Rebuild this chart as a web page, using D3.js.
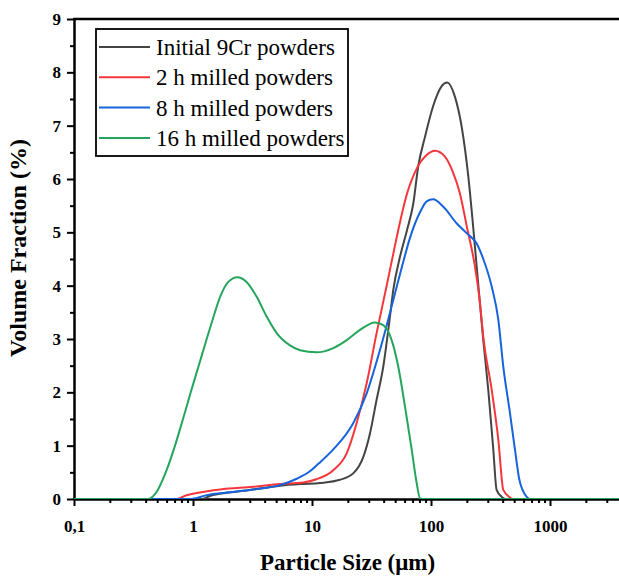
<!DOCTYPE html>
<html>
<head>
<meta charset="utf-8">
<style>
  body { margin: 0; background: #fff; }
  text { font-family: "Liberation Serif", "Times New Roman", serif; }
</style>
</head>
<body>
<script src="https://cdn.jsdelivr.net/npm/d3@7"></script>
<div id="chart"></div>
<script>
// series labels + colours
var seriesNames = ["Initial 9Cr powders", "2 h milled powders", "8 h milled powders", "16 h milled powders"];
var seriesColors = ["#444444", "#f5373c", "#1763dc", "#25a55c"];

// particle size (um) / volume fraction (%)
var initialSize = [0.1, 1.2, 1.4, 2, 3, 5.4, 8, 11.7, 17.2, 22.2, 27, 30.7, 34.9, 39.7, 45.2, 48.2, 55, 63, 71, 78, 89, 104, 123, 137, 159, 181, 206, 226, 242, 275, 303, 334, 356, 393, 420, 3800];
var initialFrac = [0, 0, 0.06, 0.12, 0.17, 0.25, 0.28, 0.3, 0.36, 0.48, 0.79, 1.23, 1.86, 2.48, 3.42, 3.92, 4.55, 5.05, 5.54, 6.23, 6.79, 7.36, 7.74, 7.81, 7.54, 6.98, 6.04, 5.11, 4.36, 2.98, 2.04, 0.92, 0.17, 0.04, 0, 0];

var milled2Size = [0.1, 0.73, 0.88, 1.0, 1.69, 3.2, 5.4, 8.45, 10.9, 15.1, 19.6, 23.7, 28.8, 34.9, 42.4, 49.8, 55, 62.4, 76, 92, 108, 131, 154, 175, 200, 234, 258, 275, 324, 368, 405, 461, 480, 3800];
var milled2Frac = [0, 0, 0.07, 0.1, 0.18, 0.23, 0.28, 0.31, 0.37, 0.54, 0.86, 1.42, 2.17, 3.11, 4.0, 4.75, 5.2, 5.7, 6.2, 6.45, 6.53, 6.42, 6.11, 5.73, 5.11, 4.36, 3.67, 3.04, 2.04, 1.11, 0.17, 0.03, 0, 0];

var milled8Size = [0.1, 0.94, 1.3, 2.33, 3.89, 5.38, 7.43, 9.6, 11.3, 15.1, 22.2, 28.8, 37.2, 48.2, 58.5, 66.7, 81, 92, 104, 127, 164, 200, 242, 275, 324, 368, 405, 461, 508, 553, 637, 680, 3800];
var milled8Frac = [0, 0, 0.07, 0.14, 0.2, 0.26, 0.38, 0.52, 0.66, 0.93, 1.42, 1.98, 2.79, 3.73, 4.45, 4.9, 5.38, 5.58, 5.62, 5.48, 5.17, 4.98, 4.79, 4.5, 3.98, 3.36, 2.48, 1.61, 0.92, 0.36, 0.04, 0, 0];

var milled16Size = [0.1, 0.42, 0.5, 0.6, 0.706, 0.824, 0.957, 1.117, 1.303, 1.47, 1.69, 1.98, 2.36, 2.82, 3.43, 4.16, 5.05, 6.53, 7.93, 10.9, 15.1, 19.6, 25.3, 33.8, 39.7, 46.7, 53.1, 60.5, 68.9, 75.9, 80.9, 85, 3800];
var milled16Frac = [0, 0, 0.15, 0.54, 1.0, 1.5, 2.0, 2.5, 3.0, 3.38, 3.79, 4.07, 4.16, 4.07, 3.79, 3.42, 3.11, 2.88, 2.79, 2.75, 2.83, 2.98, 3.17, 3.31, 3.26, 2.98, 2.48, 1.73, 0.92, 0.29, 0.01, 0, 0];

// ticks
var xMajor = [0.1, 1, 10, 100, 1000];
var xMajorLabels = ["0,1", "1", "10", "100", "1000"];
var yMajor = [0, 1, 2, 3, 4, 5, 6, 7, 8, 9];

var sizes = [initialSize, milled2Size, milled8Size, milled16Size];
var fracs = [initialFrac, milled2Frac, milled8Frac, milled16Frac];

var W = 619, H = 579;
var margin = { top: 19, right: 0, bottom: 80, left: 74 };
var width = W - margin.left - margin.right,
    height = H - margin.top - margin.bottom;

var svg = d3.select("#chart")
    .append("svg")
    .attr("width", W)
    .attr("height", H)
    .append("g")
    .attr("transform", "translate(" + margin.left + "," + margin.top + ")");

// 119 px per decade in the picture
var xMax = 0.1 * Math.pow(10, width / 119);
var x = d3.scaleLog().domain([0.1, xMax]).range([0, width]);
var y = d3.scaleLinear().domain([0, 9]).range([height, 0]);

svg.append("defs").append("clipPath").attr("id", "clip")
    .append("rect").attr("x", 0).attr("y", -2).attr("width", width).attr("height", height + 2);

// minor ticks
var xMinor = [];
[0.1, 1, 10, 100, 1000].forEach(function (d) {
    for (var k = 2; k <= 9; k++) { if (d * k < xMax) xMinor.push(d * k); }
});
var yMinor = d3.range(0.5, 9, 1);

svg.append("g")
    .attr("transform", "translate(0," + height + ")")
    .call(d3.axisBottom(x).tickValues(xMinor).tickSize(4).tickFormat(""))
    .call(function (g) { g.select(".domain").remove(); g.selectAll("line").attr("stroke-width", 2); });

svg.append("g")
    .call(d3.axisLeft(y).tickValues(yMinor).tickSize(4).tickFormat(""))
    .call(function (g) { g.select(".domain").remove(); g.selectAll("line").attr("stroke-width", 2); });

var xAxis = svg.append("g")
    .attr("transform", "translate(0," + height + ")")
    .call(d3.axisBottom(x).tickValues(xMajor).tickSize(7).tickSizeOuter(0)
        .tickFormat(function (d, i) { return xMajorLabels[i]; }));
xAxis.select(".domain").attr("stroke-width", 2.5);
xAxis.selectAll("line").attr("stroke-width", 2);
xAxis.selectAll("text").attr("font-size", 17).attr("font-weight", "bold")
    .attr("font-family", "Liberation Serif").attr("dy", "1.35em");

var yAxis = svg.append("g")
    .call(d3.axisLeft(y).tickValues(yMajor).tickSize(7).tickSizeOuter(0));
yAxis.select(".domain").attr("stroke-width", 2.5);
yAxis.selectAll("line").attr("stroke-width", 2);
yAxis.selectAll("text").attr("font-size", 17).attr("font-weight", "bold")
    .attr("font-family", "Liberation Serif").attr("x", -13);

// top frame line
svg.append("line")
    .attr("x1", -1).attr("x2", width)
    .attr("y1", y(9)).attr("y2", y(9))
    .attr("stroke", "#000").attr("stroke-width", 2.5);

// curves
var line = d3.line()
    .x(function (d) { return x(d[0]); })
    .y(function (d) { return y(d[1]); })
    .curve(d3.curveMonotoneX);

var plot = svg.append("g").attr("clip-path", "url(#clip)");
sizes.forEach(function (s, i) {
    var pts = s.map(function (v, j) { return [v, fracs[i][j]]; });
    plot.append("path")
        .datum(pts)
        .attr("fill", "none")
        .attr("stroke", seriesColors[i])
        .attr("stroke-width", 2)
        .attr("stroke-linejoin", "round")
        .attr("d", line);
});

// legend
var legend = svg.append("g").attr("transform", "translate(22,10)");
legend.append("rect")
    .attr("width", 252).attr("height", 127)
    .attr("fill", "#fff").attr("stroke", "#000").attr("stroke-width", 1.8);
seriesNames.forEach(function (name, i) {
    var ly = 18 + i * 30.3;
    legend.append("line")
        .attr("x1", 3).attr("x2", 54).attr("y1", ly).attr("y2", ly)
        .attr("stroke", seriesColors[i]).attr("stroke-width", 2);
    legend.append("text")
        .attr("x", 60).attr("y", ly).attr("dy", "0.35em")
        .attr("font-size", 23)
        .text(name);
});

// axis titles
svg.append("text")
    .attr("x", width / 2 + 1).attr("y", H - margin.top - 9)
    .attr("text-anchor", "middle")
    .attr("font-size", 23).attr("font-weight", "bold")
    .text("Particle Size (\u03bcm)");

svg.append("text")
    .attr("transform", "translate(" + (-48) + "," + (248 - margin.top) + ") rotate(-90)")
    .attr("text-anchor", "middle")
    .attr("font-size", 24).attr("font-weight", "bold")
    .text("Volume Fraction (%)");
</script>
</body>
</html>
